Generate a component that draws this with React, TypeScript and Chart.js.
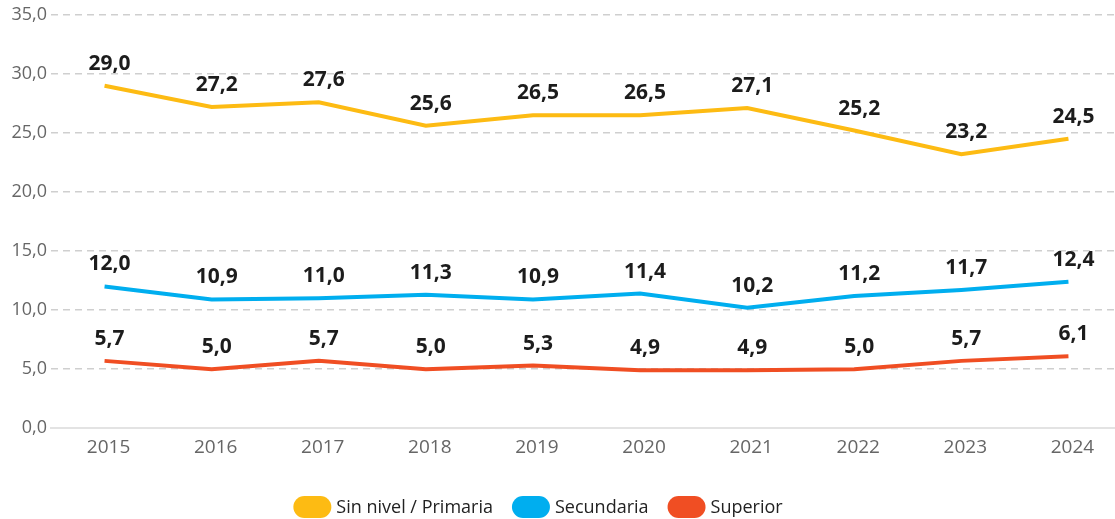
import React, { useEffect, useRef } from "react";
import { Chart, registerables } from "chart.js";

Chart.register(...registerables);

const years = ["2015", "2016", "2017", "2018", "2019", "2020", "2021", "2022", "2023", "2024"];
const primaria = [29.0, 27.2, 27.6, 25.6, 26.5, 26.5, 27.1, 25.2, 23.2, 24.5];
const secundaria = [12.0, 10.9, 11.0, 11.3, 10.9, 11.4, 10.2, 11.2, 11.7, 12.4];
const superior = [5.7, 5.0, 5.7, 5.0, 5.3, 4.9, 4.9, 5.0, 5.7, 6.1];
const seriesNames = ["Sin nivel / Primaria", "Secundaria", "Superior"];
const seriesColors = ["#FDBB13", "#00AEEF", "#F04E23"];

const fmt = (v: number) => v.toFixed(1).replace(".", ",");

const FONT = "'Open Sans', sans-serif";

const labelPlugin = {
  id: "valueLabels",
  afterDatasetsDraw(chart: any) {
    const ctx = chart.ctx;
    ctx.save();
    ctx.font = `bold 21px ${FONT}`;
    ctx.fillStyle = "#1c1c1c";
    ctx.textAlign = "center";
    ctx.textBaseline = "middle";
    chart.data.datasets.forEach((ds: any, i: number) => {
      const meta = chart.getDatasetMeta(i);
      meta.data.forEach((pt: any, j: number) => {
        ctx.fillText(fmt(ds.data[j]), pt.x + 5, pt.y - 22);
      });
    });
    ctx.restore();
  },
};

const legendPlugin = {
  id: "pillLegend",
  afterDraw(chart: any) {
    const ctx = chart.ctx;
    const boxW = 38;
    const boxH = 22;
    const textGap = 5;
    const itemGap = 19;
    const centerX = 538;
    const centerY = 507;
    ctx.save();
    ctx.font = `18px ${FONT}`;
    ctx.textBaseline = "middle";
    ctx.textAlign = "left";
    const items = chart.data.datasets.map((ds: any) => ({
      text: ds.label,
      color: ds.borderColor,
      w: ctx.measureText(ds.label).width,
    }));
    const total =
      items.reduce((s: number, it: any) => s + boxW + textGap + it.w, 0) + itemGap * (items.length - 1);
    let x = centerX - total / 2;
    items.forEach((it: any) => {
      ctx.fillStyle = it.color;
      ctx.beginPath();
      ctx.roundRect(x, centerY - boxH / 2, boxW, boxH, boxH / 2);
      ctx.fill();
      x += boxW + textGap;
      ctx.fillStyle = "#222222";
      ctx.fillText(it.text, x, centerY + 1);
      x += it.w + itemGap;
    });
    ctx.restore();
  },
};

export default function App() {
  const ref = useRef<HTMLCanvasElement>(null);
  useEffect(() => {
    if (!ref.current) return;
    const data = [primaria, secundaria, superior];
    const chart = new Chart(ref.current, {
      type: "line",
      data: {
        labels: years,
        datasets: data.map((d, i) => ({
          label: seriesNames[i],
          data: d,
          borderColor: seriesColors[i],
          backgroundColor: seriesColors[i],
          borderWidth: 4,
          pointRadius: 0,
          tension: 0,
          fill: false,
        })),
      },
      options: {
        animation: false,
        responsive: false,
        maintainAspectRatio: false,
        layout: { padding: { top: 11, right: 0, left: 11, bottom: 52 } },
        plugins: {
          tooltip: { enabled: false },
          legend: { display: false },
        },
        scales: {
          x: {
            offset: true,
            grid: { display: false, drawTicks: false },
            border: { display: true, color: "#e3e3e3", width: 2 },
            ticks: { font: { family: FONT, size: 19 }, color: "#666666", padding: 8, labelOffset: 4 },
          },
          y: {
            min: 0,
            max: 35,
            afterFit: (s: any) => {
              s.width = 40;
            },
            ticks: {
              stepSize: 5,
              font: { family: FONT, size: 18 },
              color: "#666666",
              padding: 4,
              callback: (v: any) => fmt(Number(v)),
            },
            grid: {
              drawTicks: false,
              color: (c: any) => (c.tick && c.tick.value === 0 ? "rgba(0,0,0,0)" : "#cfcfcf"),
              lineWidth: 1.5,
            },
            border: { display: false, dash: [7, 5] },
          },
        },
      },
      plugins: [labelPlugin, legendPlugin],
    });
    return () => chart.destroy();
  }, []);
  return (
    <div style={{ position: "fixed", left: 0, top: 0, width: 1115, height: 519, background: "#fff", overflow: "hidden" }}>
      <canvas ref={ref} width={1122} height={519} style={{ width: 1122, height: 519 }} />
    </div>
  );
}
